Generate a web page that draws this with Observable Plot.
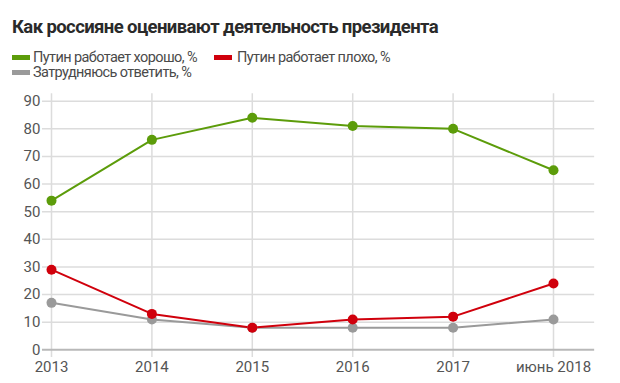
<!DOCTYPE html>
<html>
<head>
<meta charset="utf-8">
<script src="https://cdn.jsdelivr.net/npm/d3@7"></script>
<script src="https://cdn.jsdelivr.net/npm/@observablehq/plot@0.6"></script>
<style>
  html, body { margin: 0; padding: 0; background: #fff; }
  body { width: 620px; height: 383px; overflow: hidden; font-family: Roboto, "Liberation Sans", Arial, sans-serif; }
  #header { position: relative; width: 620px; height: 84px; }
  #title { position: absolute; left: 12px; top: 15px; font-size: 18.5px; letter-spacing: -0.6px; font-weight: bold; color: #2a2a2a; white-space: nowrap; line-height: 24px; }
  .item { position: absolute; font-size: 14.5px; letter-spacing: -0.6px; color: #4a4a4a; white-space: nowrap; line-height: 15px; }
  .sw { position: absolute; height: 5px; width: 18px; }
  #chart svg { display: block; }
</style>
</head>
<body>
<div id="header">
  <div id="title">Как россияне оценивают деятельность президента</div>
  <div id="legend"></div>
</div>
<div id="chart"></div>
<script>
const categories = ["2013", "2014", "2015", "2016", "2017", "июнь 2018"];
const good = [54, 76, 84, 81, 80, 65];
const bad = [29, 13, 8, 11, 12, 24];
const unsure = [17, 11, 8, 8, 8, 11];
const seriesNames = ["Путин работает хорошо, %", "Путин работает плохо, %", "Затрудняюсь ответить, %"];
const seriesColors = ["#5c9c0a", "#d0000c", "#9a9a9a"];
const yTicks = [0, 10, 20, 30, 40, 50, 60, 70, 80, 90];

// legend
const legendPos = [[12, 49.5, 33], [214, 49.5, 237], [12, 65, 33]];
const legend = document.getElementById("legend");
seriesNames.forEach((name, i) => {
  const [sx, ty, tx] = legendPos[i];
  const sw = document.createElement("div");
  sw.className = "sw";
  sw.style.left = sx + "px";
  sw.style.top = (ty + 5) + "px";
  sw.style.background = seriesColors[i];
  legend.appendChild(sw);
  const t = document.createElement("div");
  t.className = "item";
  t.style.left = tx + "px";
  t.style.top = ty + "px";
  t.textContent = name;
  legend.appendChild(t);
});

const rows = [];
[good, bad, unsure].forEach((vals, s) => {
  vals.forEach((v, i) => rows.push({series: seriesNames[s], s, i, v}));
});
const drawOrder = [2, 1, 0];

const idx = categories.map((_, i) => i);

const plot = Plot.plot({
  width: 620,
  height: 299,
  marginLeft: 51,
  marginRight: 67,
  marginTop: 16.7,
  marginBottom: 33.7,
  style: {fontFamily: "Roboto, 'Liberation Sans', Arial, sans-serif", fontSize: "15px", color: "#555", background: "transparent"},
  x: {type: "linear", domain: [0, 5], axis: null},
  y: {domain: [0, 90], axis: null},
  marks: [
    Plot.ruleY(yTicks.filter(d => d > 0), {x1: -0.09, x2: 5.41, stroke: "#dcdcdc", strokeWidth: 1.5}),
    Plot.ruleX(idx, {x: d => d, y1: -2.8, y2: 92.7, stroke: "#dcdcdc", strokeWidth: 1.5}),
    Plot.ruleY([0], {x1: -0.09, x2: 5.41, stroke: "#b8b8b8", strokeWidth: 2}),
    Plot.text(yTicks, {x: -0.09, y: d => d, text: d => String(d), textAnchor: "end", dx: -2, fill: "#555", fontSize: 15}),
    Plot.text(idx, {x: d => d, y: 0, text: d => categories[d], dy: 17, fill: "#555", fontSize: 15}),
    ...drawOrder.map(s => Plot.line(rows.filter(r => r.s === s), {x: "i", y: "v", stroke: seriesColors[s], strokeWidth: 2})),
    ...drawOrder.map(s => Plot.dot(rows.filter(r => r.s === s), {x: "i", y: "v", fill: seriesColors[s], r: 5})),
  ]
});
document.getElementById("chart").appendChild(plot);
</script>
</body>
</html>
